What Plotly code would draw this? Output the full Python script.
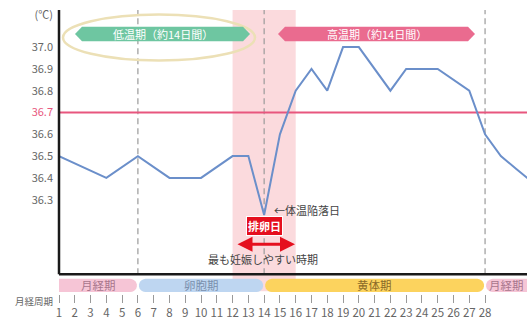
import numpy as np
import plotly.graph_objects as go

# ---------------- data ----------------
days = [1, 4, 6, 8, 10, 12, 13, 14, 15, 16, 17, 18, 19, 20, 22, 23, 25, 27, 28, 29, 30, 31]
temps = [36.5, 36.4, 36.5, 36.4, 36.4, 36.5, 36.5, 36.23, 36.6, 36.8, 36.9, 36.8, 37.0, 37.0,
         36.8, 36.9, 36.9, 36.8, 36.6, 36.5, 36.44, 36.38]
threshold = 36.7
ytick_vals = [36.3, 36.4, 36.5, 36.6, 36.7, 36.8, 36.9, 37.0]
day_ticks = list(range(1, 29))
phase_names = ["月経期", "卵胞期", "黄体期", "月経期"]
phase_start = [1, 6, 14, 28]
phase_end = [6, 14, 28, 33]
fertile_start, fertile_end = 12, 16
divider_days = [6, 14, 28]
ovulation_day = 14

# ---------------- styles ----------------
FONT = "Noto Sans CJK JP"
phase_fill = ["#f6c5d6", "#bed6f1", "#fcd35e", "#f6c5d6"]
phase_text = ["#a8768c", "#7a90ad", "#8a6a28", "#a8768c"]
line_color = "#6b8fca"
red_line = "#e8567e"
W, H = 527, 320
L, T_, B = 59, 10, 23
X_MIN = 1
X_MAX = 1 + (W - L) / 15.78
PX_PER_DEG = 220.3


def X(px):
    return X_MIN + (px - L) / 15.78


def Y(py):
    return 37.0 + (47.5 - py) / PX_PER_DEG


Y_MIN, Y_MAX = Y(H - B), Y(T_)

fig = go.Figure()
fig.add_trace(go.Scatter(x=days, y=temps, mode="lines",
                         line=dict(color=line_color, width=2), hoverinfo="skip",
                         showlegend=False))

shapes = []
# fertile band
shapes.append(dict(type="rect", xref="x", yref="paper", x0=fertile_start, x1=fertile_end,
                   y0=0.01, y1=1, fillcolor="#fbdadd", line_width=0, layer="below"))
# dashed dividers
axis_bottom_paper = (H - B - 277) / (H - B - T_)
for d in divider_days:
    shapes.append(dict(type="line", xref="x", yref="paper", x0=d, x1=d,
                       y0=axis_bottom_paper, y1=1,
                       line=dict(color="#9a9a9a", width=1.2, dash="6px,4px"), layer="below"))
# threshold line
shapes.append(dict(type="line", xref="paper", yref="y", x0=0, x1=1, y0=threshold, y1=threshold,
                   line=dict(color=red_line, width=1.8), layer="below"))
# axes frame
shapes.append(dict(type="line", xref="paper", yref="paper", x0=0, x1=0, y0=axis_bottom_paper, y1=1,
                   line=dict(color="#1a1a1a", width=2.5)))
shapes.append(dict(type="line", xref="paper", yref="paper", x0=0, x1=1,
                   y0=axis_bottom_paper, y1=axis_bottom_paper,
                   line=dict(color="#1a1a1a", width=2.5)))

# phase bars (stadium shapes)
bar_top, bar_bot = Y(281.7), Y(295.0)
ry = (bar_top - bar_bot) / 2
ymid = (bar_top + bar_bot) / 2
rx = 6.65 / 15.78
gap = 1.0 / 15.78


def stadium(x0, x1):
    pts = []
    a = np.linspace(np.pi / 2, -np.pi / 2, 12)
    for t in a:
        pts.append((x1 - rx + rx * np.cos(t), ymid + ry * np.sin(t)))
    a = np.linspace(-np.pi / 2, -3 * np.pi / 2, 12)
    for t in a:
        pts.append((x0 + rx + rx * np.cos(t), ymid + ry * np.sin(t)))
    return "M " + " L ".join(f"{px:.4f},{py:.5f}" for px, py in pts) + " Z"


annotations = []
for name, s, e, fc, tc in zip(phase_names, phase_start, phase_end, phase_fill, phase_text):
    x0 = s + gap if s > X_MIN else X_MIN - rx
    x1 = e - gap
    shapes.append(dict(type="path", xref="x", yref="y", path=stadium(x0, x1),
                       fillcolor=fc, line_width=0, layer="above"))
    cx = (max(s + gap, X_MIN) + min(x1, X_MAX)) / 2
    annotations.append(dict(x=cx, y=ymid, xref="x", yref="y", text=name, showarrow=False,
                            font=dict(family=FONT, size=11.5, color=tc)))

# ellipse around low-temp banner
shapes.append(dict(type="circle", xref="x", yref="y", x0=X(63), x1=X(255), y0=Y(61), y1=Y(14.5),
                   line=dict(color="#ece0b6", width=2.5)))


def banner(px0, px1, color):
    top, bot, mid = Y(27), Y(41.5), Y(34.2)
    d = 7
    pts = [(px0, mid), (px0 + d, top), (px1 - d, top), (px1, mid), (px1 - d, bot), (px0 + d, bot)]
    return dict(type="path", xref="x", yref="y",
                path="M " + " L ".join(f"{X(a):.4f},{b:.5f}" for a, b in pts) + " Z",
                fillcolor=color, line_width=0)


shapes.append(banner(75, 250, "#6ec6a1"))
shapes.append(banner(278, 475, "#ea6b8f"))
annotations.append(dict(x=X(162.5), y=Y(34.2), xref="x", yref="y", text="低温期（約14日間）",
                        showarrow=False, font=dict(family=FONT, size=11, color="white")))
annotations.append(dict(x=X(376.5), y=Y(34.2), xref="x", yref="y", text="高温期（約14日間）",
                        showarrow=False, font=dict(family=FONT, size=11, color="white")))

# ovulation notes
annotations.append(dict(x=X(272), y=Y(211.7), xref="x", yref="y", text="←体温陥落日",
                        xanchor="left", showarrow=False, font=dict(family=FONT, size=11, color="#444")))
annotations.append(dict(x=ovulation_day, y=Y(228.5), xref="x", yref="y", text="<b>排卵日</b>",
                        showarrow=False, bgcolor="#e50f1e", bordercolor="white", borderwidth=1,
                        borderpad=1, font=dict(family=FONT, size=11, color="white")))
annotations.append(dict(x=X(295), y=Y(246.7), ax=X(236), ay=Y(246.7), xref="x", yref="y",
                        axref="x", ayref="y", text="", showarrow=True, arrowside="end+start",
                        arrowhead=2, startarrowhead=2, arrowsize=1, startarrowsize=1,
                        arrowwidth=3, arrowcolor="#e50f1e"))
annotations.append(dict(x=X(263), y=Y(261.7), xref="x", yref="y", text="最も妊娠しやすい時期",
                        showarrow=False, font=dict(family=FONT, size=11, color="#444")))
annotations.append(dict(x=-46 / (W - L), y=(H - B - 312.7) / (H - B - T_), xref="paper", yref="paper",
                        text="月経周期", xanchor="left", showarrow=False,
                        font=dict(family=FONT, size=9.5, color="#666")))

ytext = [f'<span style="color:{red_line}">{v:.1f}</span>' if abs(v - threshold) < 1e-9 else f"{v:.1f}"
         for v in ytick_vals]

fig.update_layout(
    width=W, height=H, margin=dict(l=L, r=0, t=T_, b=B),
    paper_bgcolor="white", plot_bgcolor="white",
    font=dict(family=FONT, color="#666"),
    shapes=shapes, annotations=annotations, showlegend=False,
    xaxis=dict(range=[X_MIN, X_MAX], tickmode="array", tickvals=day_ticks,
               ticktext=[str(d) for d in day_ticks], ticks="outside", ticklen=8,
               tickcolor="#9a9a9a", tickwidth=1, showgrid=False, zeroline=False, showline=False,
               tickfont=dict(family=FONT, size=11.5, color="#666"), fixedrange=True),
    yaxis=dict(range=[Y_MIN, Y_MAX], tickmode="array",
               tickvals=ytick_vals + [Y(15)], ticktext=ytext + ["(℃)"],
               ticks="", ticklabelstandoff=5, showgrid=False, zeroline=False, showline=False,
               tickfont=dict(family=FONT, size=11, color="#666"), fixedrange=True),
)

fig.write_html("out.html")
